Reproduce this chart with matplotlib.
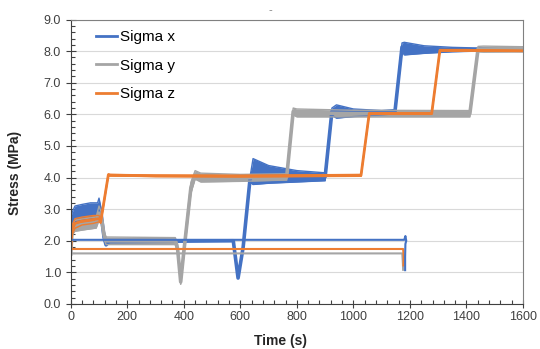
import numpy as np
import matplotlib.pyplot as plt
from matplotlib.ticker import MultipleLocator, FormatStrFormatter

plt.rcParams['font.family'] = ['Liberation Sans', 'DejaVu Sans']

# Sigma x: time, lower and upper edge of the noisy band (MPa)
sx_t = [0, 5, 15, 40, 70, 95, 100, 108, 118, 125, 135, 575, 592, 610, 634, 645, 700, 800, 900,
        924, 940, 1000, 1100, 1147, 1172, 1180, 1250, 1350, 1437, 1600]
sx_lo = [2.0, 2.45, 2.6, 2.65, 2.7, 2.75, 2.85, 2.6, 2.1, 1.87, 1.97, 2.0, 0.82, 1.8, 3.85, 3.78, 3.82, 3.86, 3.9,
         5.98, 5.88, 5.93, 5.98, 6.02, 8.0, 7.88, 7.93, 7.98, 8.0, 8.0]
sx_hi = [2.0, 2.9, 3.1, 3.15, 3.2, 3.2, 3.35, 3.0, 2.1, 1.87, 1.97, 2.0, 0.82, 1.8, 4.0, 4.6, 4.38, 4.22, 4.15,
         6.2, 6.3, 6.17, 6.12, 6.15, 8.26, 8.28, 8.17, 8.12, 8.1, 8.05]

# Sigma y
sy_t = [0, 5, 15, 50, 90, 100, 108, 118, 125, 370, 378, 389, 400, 425, 440, 460, 600, 764, 787,
        800, 1000, 1412, 1441, 1460, 1600]
sy_lo = [1.58, 2.2, 2.3, 2.35, 2.4, 2.65, 2.6, 2.05, 1.88, 1.88, 1.6, 0.62, 1.5, 3.5, 3.95, 3.86, 3.88, 3.92, 5.98,
         5.92, 5.92, 5.92, 7.98, 7.97, 7.98]
sy_hi = [1.58, 2.5, 2.65, 2.7, 2.75, 3.1, 2.9, 2.3, 2.12, 2.1, 1.9, 0.78, 1.8, 3.85, 4.22, 4.14, 4.1, 4.12, 6.2,
         6.17, 6.13, 6.12, 8.15, 8.16, 8.14]

# Sigma z
sz_t = [0, 5, 15, 40, 80, 100, 106, 133, 140, 300, 600, 1027, 1056, 1100, 1277, 1306, 1400, 1600]
sz_lo = [1.75, 2.2, 2.4, 2.5, 2.55, 2.6, 2.55, 4.05, 4.05, 4.03, 4.02, 4.04, 6.0, 6.0, 6.0, 8.0, 8.0, 8.0]
sz_hi = [1.75, 2.5, 2.7, 2.75, 2.8, 2.8, 2.65, 4.12, 4.1, 4.08, 4.07, 4.1, 6.05, 6.05, 6.05, 8.05, 8.05, 8.02]

# second (unloading) part of each record
sx2_t = [0, 1180, 1184, 1187, 1184, 1183, 1183]
sx2_s = [2.03, 2.03, 2.15, 2.0, 1.9, 1.5, 1.07]
sz2_t = [0, 1176, 1178, 1177]
sz2_s = [1.74, 1.74, 1.5, 1.22]
sy2_t = [0, 1173, 1175, 1176]
sy2_s = [1.6, 1.6, 1.3, 1.08]

labels = ['Sigma x', 'Sigma y', 'Sigma z']
colors = ['#4472C4', '#A5A5A5', '#ED7D31']

fig = plt.figure(figsize=(5.4, 3.49), dpi=100)
ax = fig.add_axes([0.131, 0.129, 0.8375, 0.815])

series = [(sx_t, sx_lo, sx_hi), (sy_t, sy_lo, sy_hi), (sz_t, sz_lo, sz_hi)]
widths = [2.6, 2.6, 2.0]
for (t, lo, hi), c, lab, w in zip(series, colors, labels, widths):
    lo = np.array(lo)
    hi = np.array(hi)
    ax.fill_between(t, lo, hi, color=c, lw=0)
    ax.plot(t, lo, color=c, lw=1.0)
    ax.plot(t, hi, color=c, lw=1.0)
    ax.plot(t, (lo + hi) / 2, color=c, lw=w, label=lab)

ax.plot(sy2_t, sy2_s, color=colors[1], lw=1.5)
ax.plot(sz2_t, sz2_s, color=colors[2], lw=1.5)
ax.plot(sx2_t, sx2_s, color=colors[0], lw=1.5)

ax.set_xlim(0, 1600)
ax.set_ylim(0, 9)
ax.xaxis.set_major_locator(MultipleLocator(200))
ax.xaxis.set_minor_locator(MultipleLocator(40))
ax.yaxis.set_major_locator(MultipleLocator(1))
ax.yaxis.set_minor_locator(MultipleLocator(0.2))
ax.yaxis.set_major_formatter(FormatStrFormatter('%.1f'))
ax.tick_params(which='major', direction='inout', length=7, width=0.8, color='#404040',
               labelsize=9, labelcolor='#404040')
ax.tick_params(which='minor', direction='in', length=3, width=0.8, color='#404040')
ax.tick_params(axis='x', which='major', length=6, pad=2)
ax.grid(axis='y', color='#D9D9D9', lw=0.8)
ax.set_axisbelow(True)
for s in ['left', 'bottom']:
    ax.spines[s].set_color('#404040')
for s in ['top', 'right']:
    ax.spines[s].set_color('#808080')

ax.set_xlabel('Time (s)', fontsize=10, fontweight='bold', color='#262626')
ax.set_ylabel('Stress (MPa)', fontsize=10, fontweight='bold', color='#262626')
ax.xaxis.set_label_coords(0.464, -0.105)
ax.yaxis.set_label_coords(-0.107, 0.46)

leg_handles = [plt.Line2D([], [], color=c, lw=2) for c in colors]
ax.legend(leg_handles, labels, loc='upper left', bbox_to_anchor=(0.04, 0.99), frameon=False,
          fontsize=11, handlelength=1.35, handletextpad=0.2, labelspacing=0.95, borderpad=0)

fig.text(0.5, 0.985, '-', ha='center', va='top', color='#808080', fontsize=8)

fig.savefig('out.png', dpi=100)
